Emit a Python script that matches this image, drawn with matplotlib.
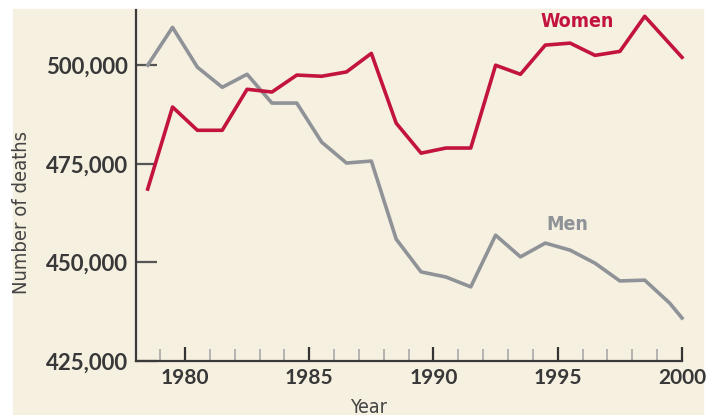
import matplotlib
matplotlib.use("Agg")
import matplotlib.pyplot as plt
from matplotlib.patches import Rectangle
from matplotlib.ticker import FuncFormatter, MultipleLocator

# data (points sit at mid-year positions)
women_years = [1978.5, 1979.5, 1980.5, 1981.5, 1982.5, 1983.5, 1984.5, 1985.5,
               1986.5, 1987.5, 1988.5, 1989.5, 1990.5, 1991.5, 1992.5, 1993.5,
               1994.5, 1995.5, 1996.5, 1997.5, 1998.5, 2000]
women = [468600, 489400, 483500, 483500, 493900, 493200, 497500, 497200,
         498300, 503000, 485300, 477700, 479000, 479000, 500000, 497700,
         505100, 505600, 502500, 503500, 512400, 502000]

men_years = [1978.5, 1979.5, 1980.5, 1981.5, 1982.5, 1983.5, 1984.5, 1985.5,
             1986.5, 1987.5, 1988.5, 1989.5, 1990.5, 1991.5, 1992.5, 1993.5,
             1994.5, 1995.5, 1996.5, 1997.5, 1998.5, 1999.5, 2000]
men = [500000, 509600, 499500, 494400, 497700, 490400, 490400, 480500,
       475200, 475700, 455900, 447600, 446300, 443800, 456900, 451400,
       454900, 453100, 449800, 445300, 445500, 439700, 435900]

year_ticks = [1980, 1985, 1990, 1995, 2000]
death_ticks = [425000, 450000, 475000, 500000]

RED = "#c2143f"
GREY = "#8f9397"
BG = "#f6f0e1"
TXT = "#383838"

W, H = 713, 415
fig = plt.figure(figsize=(W / 100, H / 100), dpi=100, facecolor="white")
fig.patches.append(Rectangle((13 / W, 0), (703 - 13) / W, (H - 9) / H,
                             transform=fig.transFigure, color=BG, zorder=-5))

ax = fig.add_axes([136 / W, (H - 361) / H, (682 - 136) / W, (361 - 10) / H])
ax.patch.set_alpha(0)

ax.plot(men_years, men, color=GREY, lw=2.6, clip_on=False)
ax.plot(women_years, women, color=RED, lw=2.6, clip_on=False)

ax.set_xlim(1978.03, 2000)
ax.set_ylim(425000, 514000)

for s in ["top", "right"]:
    ax.spines[s].set_visible(False)
for s in ["left", "bottom"]:
    ax.spines[s].set_color("#3a3a3a")
    ax.spines[s].set_linewidth(1.6)

ax.set_xticks(year_ticks)
ax.xaxis.set_minor_locator(MultipleLocator(1))
ax.set_yticks(death_ticks)
ax.yaxis.set_major_formatter(FuncFormatter(lambda v, p: f"{int(v):,}"))

ax.tick_params(axis="x", which="major", direction="in", length=10, width=1.6,
               color="#333333", pad=5, labelsize=15, labelcolor=TXT)
ax.tick_params(axis="x", which="minor", direction="in", length=9, width=1.2,
               color="#a8a8a8")
ax.tick_params(axis="y", which="major", direction="in", length=15, width=1.6,
               color="#555555", pad=6, labelsize=16, labelcolor=TXT)
for lab in ax.get_xticklabels() + ax.get_yticklabels():
    lab.set_family(["Lato", "DejaVu Sans"])
    lab.set_fontweight("bold")

ax.text(1995.8, 511000, "Women", color=RED, fontsize=14, fontweight="bold",
        family="DejaVu Sans", fontstretch="condensed", ha="center", va="center")
ax.text(1995.4, 459500, "Men", color=GREY, fontsize=14, fontweight="bold",
        family="DejaVu Sans", fontstretch="condensed", ha="center", va="center")

fig.text(22 / W, 1 - 212 / H, "Number of deaths", rotation=90, color="#444444",
         fontsize=14.5, family="DejaVu Sans", fontstretch="condensed",
         ha="center", va="center")
fig.text(368 / W, 1 - 407 / H, "Year", color="#444444", fontsize=14,
         family="DejaVu Sans", fontstretch="condensed", ha="center", va="center")

fig.savefig("out.png", dpi=100, facecolor="white")
